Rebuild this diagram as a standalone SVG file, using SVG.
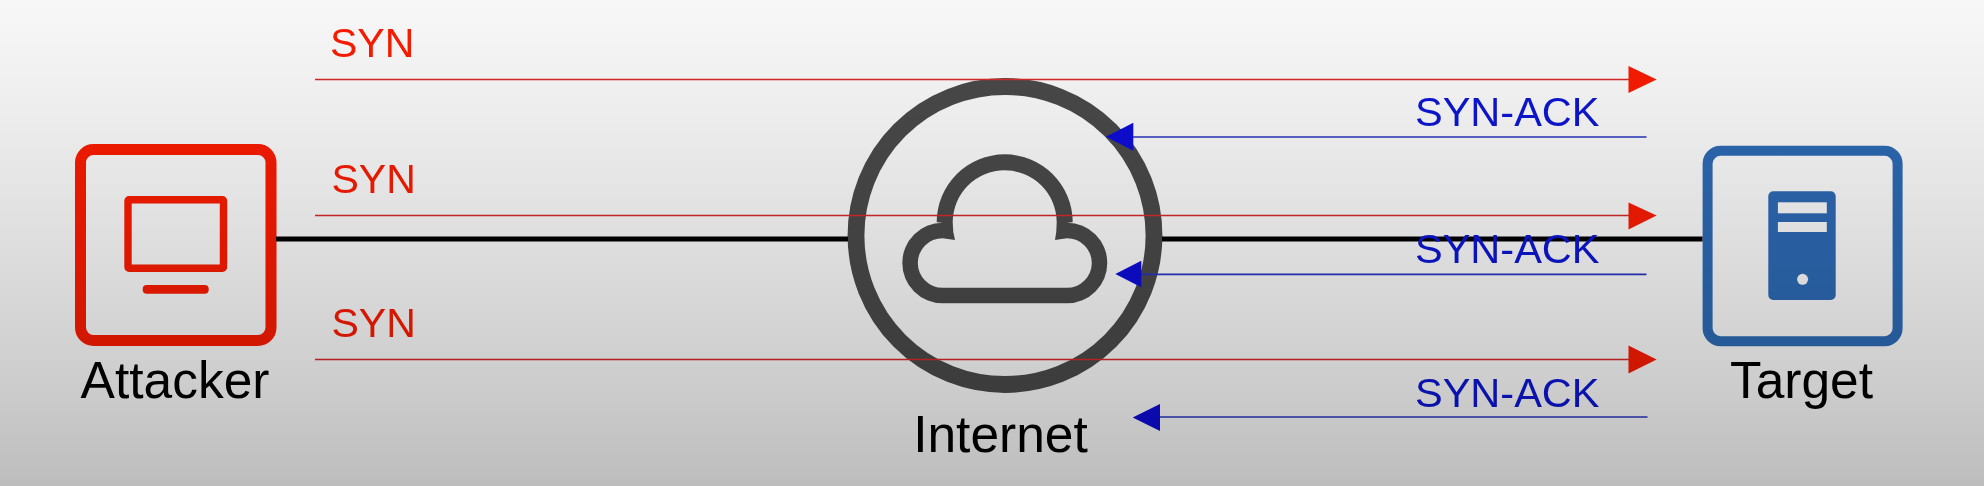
<svg xmlns="http://www.w3.org/2000/svg" width="1984" height="486" viewBox="0 0 1984 486">
<style>
text{font-family:"Liberation Sans",Arial,sans-serif}
.name{font-size:51.5px;fill:#000;text-anchor:middle}
.syn{font-size:41px;fill:#ff1c00}
.ack{font-size:41.5px;fill:#0a14d8}
.red{stroke:#dc2a2a;stroke-width:1.5;fill:none}
.blue{stroke:#2a36c4;stroke-width:1.7;fill:none}
.link{stroke:#000;stroke-width:5;fill:none}
.rh{fill:#ff1c00}
.bh{fill:#0a10dc}
.grey{fill:#4c4b4b}
</style>
<defs>
<linearGradient id="shade" x1="0" y1="0" x2="0" y2="1">
<stop offset="0" stop-color="#000" stop-opacity="0.03"/>
<stop offset="0.2" stop-color="#000" stop-opacity="0.065"/>
<stop offset="0.5" stop-color="#000" stop-opacity="0.13"/>
<stop offset="0.8" stop-color="#000" stop-opacity="0.2"/>
<stop offset="1" stop-color="#000" stop-opacity="0.26"/>
</linearGradient>
<filter id="soft" filterUnits="userSpaceOnUse" x="0" y="0" width="1984" height="486"><feGaussianBlur stdDeviation="0.6"/></filter>
</defs>
<rect width="1984" height="486" fill="#fff"/>
<g filter="url(#soft)">
<g id="attacker">
<rect x="80.5" y="149.5" width="190.5" height="191" rx="13" fill="none" stroke="#ff1c00" stroke-width="11"/>
<rect x="128" y="199.7" width="95.5" height="68.6" rx="1" fill="none" stroke="#ff1c00" stroke-width="7.4"/>
<rect x="142.7" y="285" width="66" height="8.7" rx="4" fill="#ff1c00"/>
<text class="name" x="175" y="398">Attacker</text>
</g>
<g id="internet">
<circle cx="1005" cy="235.5" r="149" fill="none" stroke="#4c4b4b" stroke-width="16.8"/>
<path class="grey" fill-rule="evenodd" d="M936.7 222.3A68 68 0 0 1 1072.7 222.3L1067 222.7A40.3 40.3 0 0 1 1067 303.3L942.6 303.3A40.3 40.3 0 0 1 942.6 222.7L936.7 222.3ZM952.7 222.3Q952.7 232 955 240L942.6 238.2A24.8 24.8 0 0 0 942.6 287.8L1067 287.8A24.8 24.8 0 0 0 1067 238.2L1055 240Q1056.7 232 1056.7 222.3A52 52 0 0 0 952.7 222.3Z"/>
<text class="name" x="1000.5" y="451.5">Internet</text>
</g>
<g id="target">
<rect x="1707.6" y="150.8" width="190" height="190.4" rx="13" fill="none" stroke="#2e6cb8" stroke-width="10"/>
<rect x="1768.3" y="191.3" width="67.4" height="108.7" rx="5" fill="#2e6cb8"/>
<rect x="1777.9" y="202.3" width="48.9" height="11" fill="#fff"/>
<rect x="1777.9" y="222" width="48.9" height="10" fill="#fff"/>
<circle cx="1802.6" cy="279.3" r="5.5" fill="#fff"/>
<text class="name" x="1801.5" y="398">Target</text>
</g>
<g id="connectors">
<path class="link" d="M276 239H848M1162 239H1702.5"/>
<path class="red" d="M315 79.5H1630M315 215.5H1630M315 359.5H1630"/>
<path class="blue" d="M1133 137H1646.5M1141 274.3H1646.5M1160 417H1647.5"/>
<path class="rh" d="M1628.5 66L1656.6 79.5L1628.5 93ZM1628.5 202.5L1656.6 215.5L1628.5 229.5ZM1628.5 345.5L1656.6 359.5L1628.5 373.5Z"/>
<path class="bh" d="M1106 136.7L1133.3 122.7V150.7ZM1115.3 274L1141.3 260.7V287.3ZM1132.7 417.5L1160 404V431Z"/>
</g>
<g id="labels">
<text class="syn" x="330" y="56.5">SYN</text>
<text class="syn" x="331.5" y="193">SYN</text>
<text class="syn" x="331.5" y="337">SYN</text>
<text class="ack" x="1415" y="125.5">SYN-ACK</text>
<text class="ack" x="1415" y="262.5">SYN-ACK</text>
<text class="ack" x="1415" y="407">SYN-ACK</text>
</g>
</g>
<rect id="shade-layer" width="1984" height="486" fill="url(#shade)"/>
</svg>
